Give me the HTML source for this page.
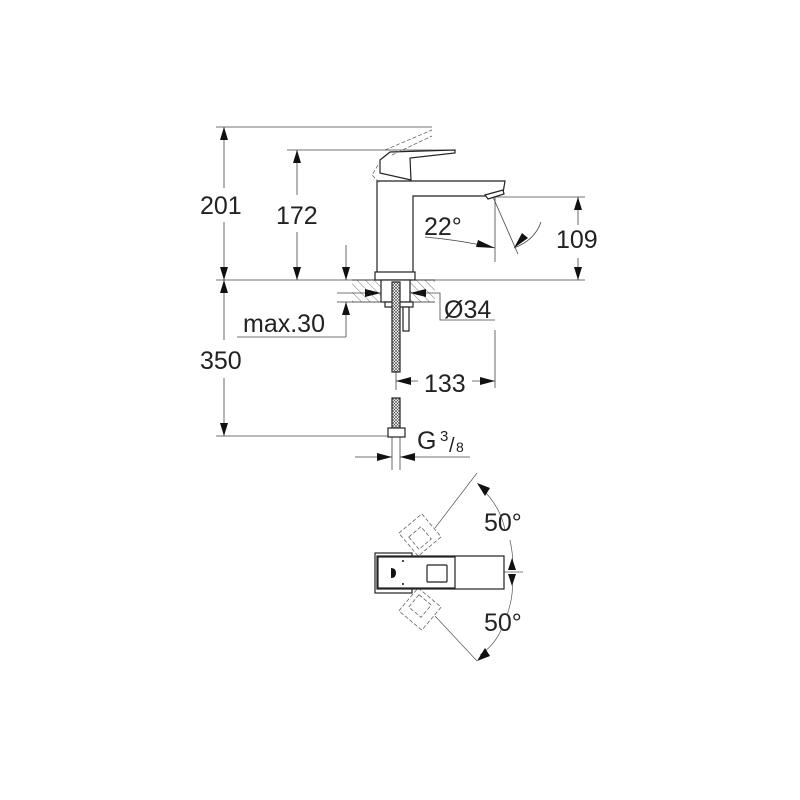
<!DOCTYPE html>
<html><head><style>body{margin:0;background:#fff}svg{display:block}text{font-family:"Liberation Sans",sans-serif;fill:#222}</style></head><body>
<svg width="800" height="800" viewBox="0 0 800 800" xmlns="http://www.w3.org/2000/svg">
<defs>
<pattern id="h" width="6" height="6" patternUnits="userSpaceOnUse" patternTransform="rotate(-45)"><line x1="0" y1="0" x2="0" y2="6" stroke="#333" stroke-width="0.7"/></pattern>
<pattern id="x" width="3" height="3" patternUnits="userSpaceOnUse"><rect width="3" height="3" fill="#fff"/><path d="M0 0L3 3M3 0L0 3" stroke="#444" stroke-width="0.6"/></pattern>
</defs>
<g stroke="#444" stroke-width="0.8" fill="none">
<line x1="216" y1="127" x2="432" y2="127"/>
<line x1="287" y1="150" x2="455" y2="150"/>
<line x1="216" y1="280" x2="585" y2="280"/>
<line x1="216" y1="436" x2="392" y2="436"/>
<line x1="224" y1="127" x2="224" y2="188"/><line x1="224" y1="222" x2="224" y2="340"/><line x1="224" y1="378" x2="224" y2="436"/>
<line x1="297" y1="150" x2="297" y2="195"/><line x1="297" y1="232" x2="297" y2="280"/>
<line x1="346" y1="245" x2="346" y2="280"/><line x1="346" y1="302" x2="346" y2="337"/>
<line x1="237" y1="337" x2="346" y2="337"/>
<line x1="337" y1="302" x2="352" y2="302"/><line x1="337" y1="293" x2="381" y2="293"/>
<polyline points="410,293 440,293 440,320 495,320"/>
<line x1="495" y1="330" x2="495" y2="388"/>
<line x1="396" y1="372" x2="396" y2="390"/>
<line x1="396" y1="381" x2="418" y2="381"/><line x1="472" y1="381" x2="495" y2="381"/>
<line x1="490" y1="197" x2="585" y2="197"/>
<line x1="578" y1="197" x2="578" y2="225"/><line x1="578" y1="258" x2="578" y2="280"/>
<line x1="495" y1="197" x2="495" y2="262"/>
<line x1="493" y1="197" x2="518" y2="254"/>
<path d="M425 237 Q460 240 495 248"/>
<path d="M514 248 Q535 240 541 222"/>
<line x1="392" y1="437" x2="392" y2="470"/><line x1="400" y1="437" x2="400" y2="470"/>
<line x1="355" y1="457" x2="392" y2="457"/><line x1="400" y1="457" x2="470" y2="457"/>
</g>
<g fill="#111">
<polygon points="224,127 220,140 228,140"/><polygon points="224,280 220,267 228,267"/>
<polygon points="224,280 220,293 228,293"/><polygon points="224,436 220,423 228,423"/>
<polygon points="297,150 293,163 301,163"/><polygon points="297,280 293,267 301,267"/>
<polygon points="346,280 342,267 350,267"/><polygon points="346,302 342,315 350,315"/>
<polygon points="381,293 365,289 365,297"/><polygon points="410,293 426,289 426,297"/>
<polygon points="396,381 411,377 411,385"/><polygon points="495,381 480,377 480,385"/>
<polygon points="578,197 574,210 582,210"/><polygon points="578,280 574,267 582,267"/>
<polygon points="495,248 478,240 476,247"/><polygon points="514,248 522,233 528,238"/>
<polygon points="392,457 377,453 377,461"/><polygon points="400,457 415,453 415,461"/>
</g>
<g stroke="#222" stroke-width="1.2" fill="#fff">
<path d="M377 272 L377 181 L505 181 L503 193 L490 196 L413 196 L413 272"/>
<polygon points="485,195 503,190 504,194 488,199"/>
<polygon points="380,160 390,152 455,150 455,153 410,158 411,180 380,173"/>
<rect x="375" y="272" width="40" height="8"/>
<rect x="352" y="280" width="83" height="22" fill="url(#h)" stroke="none"/>
<line x1="352" y1="280" x2="435" y2="280" stroke-width="0.8"/><line x1="352" y1="302" x2="435" y2="302" stroke-width="0.8"/>
<rect x="381" y="280" width="29" height="22"/>
<rect x="385" y="302" width="28" height="5"/>
<rect x="392" y="282" width="8" height="90" fill="url(#x)"/>
<rect x="403" y="307" width="6" height="24"/>
<rect x="392" y="398" width="8" height="30" fill="url(#x)"/>
<rect x="388" y="428" width="17" height="9"/>
</g>
<g stroke="#555" stroke-width="0.7" fill="none" stroke-dasharray="4,2">
<polyline points="378,165 372,175 380,183"/><line x1="385" y1="150" x2="432" y2="130"/><line x1="392" y1="155" x2="432" y2="136"/>
</g>
<g font-size="25">
<text x="200" y="214">201</text><text x="276" y="224">172</text>
<text x="200" y="369">350</text><text x="243" y="332">max.30</text>
<text x="444" y="318">Ø34</text><text x="424" y="392">133</text>
<text x="556" y="248">109</text><text x="424" y="235">22°</text>
<text x="417" y="449">G</text>
<text x="484" y="531">50°</text><text x="484" y="631">50°</text>
</g>
<text x="440" y="441" font-size="15">3</text><text x="449" y="452" font-size="20">/</text><text x="456" y="452" font-size="14">8</text>
<!-- plan view -->
<g stroke="#555" stroke-width="0.7" fill="none">
<line x1="435" y1="528" x2="477" y2="473"/><line x1="435" y1="616" x2="477" y2="661"/>
<path d="M480 487 Q500 505 505 530"/><path d="M510 540 Q514 560 512 565"/><path d="M512 580 Q514 595 507 615"/><path d="M502 628 Q495 645 480 655"/>
<line x1="478" y1="572" x2="523" y2="572"/>
</g>
<g fill="#111"><polygon points="477,483 490,488 485,496"/><polygon points="512,558 508,570 516,570"/><polygon points="512,586 508,574 516,574"/><polygon points="477,661 490,656 485,648"/></g>
<g stroke="#666" stroke-width="0.8" fill="none" stroke-dasharray="4,2">
<rect x="405" y="520" width="30" height="30" transform="rotate(-40 420 535)"/>
<rect x="412" y="530" width="16" height="16" transform="rotate(-40 420 538)"/>
<rect x="405" y="594" width="30" height="30" transform="rotate(40 420 609)"/>
<rect x="412" y="598" width="16" height="16" transform="rotate(40 420 606)"/>
</g>
<g stroke="#222" stroke-width="1.2" fill="#fff">
<rect x="375" y="553" width="37" height="40"/>
<rect x="377" y="556" width="127" height="33"/>
<rect x="378" y="557" width="77" height="31"/>
<rect x="427" y="565" width="20" height="17" rx="1"/>
</g>
<path d="M391 568 q5 0 5 5 q0 5 -5 5 z" fill="#111"/>
<circle cx="403" cy="561" r="1" fill="#111"/><circle cx="403" cy="584" r="1" fill="#111"/>
</svg>
</body></html>
